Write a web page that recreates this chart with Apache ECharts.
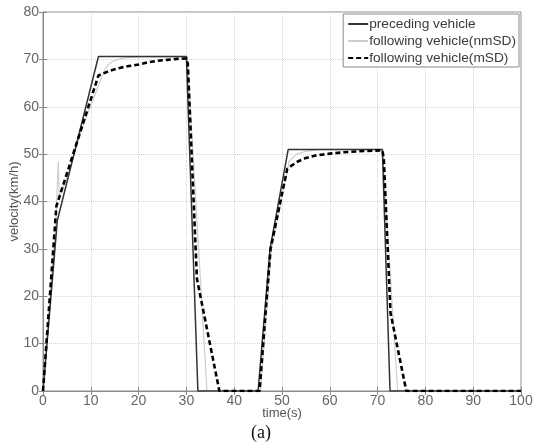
<!DOCTYPE html>
<html><head><meta charset="utf-8">
<script src="https://cdn.jsdelivr.net/npm/echarts@6/dist/echarts.min.js"></script>
<style>html,body{margin:0;padding:0;background:#fff}#c{width:533px;height:445px}</style>
</head><body><div id="c"></div>
<script>
var xTicks = [0,10,20,30,40,50,60,70,80,90,100];
var yTicks = [0,10,20,30,40,50,60,70,80];
var seriesNames = ['preceding vehicle','following vehicle(nmSD)','following vehicle(mSD)'];

var precT = [0, 3, 11.6, 30, 32.4, 45, 47.5, 51.3, 71, 72.6, 100];
var precV = [0, 36, 70.6, 70.6, 0, 0, 30, 51, 51, 0, 0];

var nmT = [0, 2.7, 3.2, 3.4, 5.3, 8, 12.2, 13, 14, 15, 17, 20, 30.2, 34.3, 45.5, 47.8, 51.5, 53, 55, 58, 71, 74.2, 100];
var nmV = [0, 36, 48.5, 41, 45.8, 55, 66, 68, 69.2, 69.8, 70.3, 70.5, 70.5, 0, 0, 30, 48.5, 50, 50.6, 51, 51, 0, 0];

var mT = [0, 2.8, 11.6, 12, 14, 16, 18, 20, 22, 24, 26, 28, 30, 30.3, 32.2, 36.9, 45.3, 47.6, 51.1, 53, 55, 57, 60, 63, 66, 71, 71.3, 72.7, 76, 100];
var mV = [0, 39, 66.6, 66.9, 67.6, 68.2, 68.6, 68.9, 69.4, 69.7, 69.9, 70.1, 70.2, 69, 23.7, 0, 0, 30, 46.9, 48.3, 49.2, 49.7, 50.1, 50.4, 50.6, 50.8, 49, 16.5, 0, 0];

function zip(t, v){ return t.map(function(x,i){ return [x, v[i]]; }); }

var chart = echarts.init(document.getElementById('c'));
var axisFont = {color:'#666', fontSize:14, fontFamily:'Liberation Sans, Arial, sans-serif'};
var nameFont = {color:'#555', fontSize:13, fontFamily:'Liberation Sans, Arial, sans-serif'};
chart.setOption({
  backgroundColor:'#fff',
  animation:false,
  grid:{left:43, right:12, top:12, bottom:54, show:true, borderColor:'#8a8a8a', borderWidth:1, outerBoundsMode:'none', containLabel:false},
  legend:{
    data:seriesNames, orient:'vertical', right:14, top:14,
    backgroundColor:'#fff', borderColor:'#8a8a8a', borderWidth:1,
    padding:[3,3,2,4], itemGap:3, itemWidth:20, itemHeight:13,
    itemStyle:{opacity:0},
    textStyle:{color:'#3a3a3a', fontSize:13.7, fontFamily:'Liberation Sans, Arial, sans-serif', padding:[0,0,0,-4]}
  },
  xAxis:[{
    type:'value', min:0, max:100, interval:10,
    name:'time(s)', nameLocation:'middle', nameGap:16, nameMoveOverlap:false,
    nameTextStyle:nameFont,
    axisLine:{show:true, lineStyle:{color:'#8a8a8a'}},
    axisTick:{show:true, inside:true, length:4, lineStyle:{color:'#8a8a8a'}},
    axisLabel:Object.assign({margin:3}, axisFont),
    splitLine:{show:true, lineStyle:{color:'#d4d4d4', type:'dotted'}}
  },{
    type:'value', position:'top', min:0, max:100, interval:10,
    axisLine:{show:true, lineStyle:{color:'#8a8a8a'}},
    axisTick:{show:true, inside:true, length:4, lineStyle:{color:'#8a8a8a'}},
    axisLabel:{show:false}, splitLine:{show:false}
  }],
  yAxis:[{
    type:'value', min:0, max:80, interval:10,
    name:'velocity(km/h)', nameLocation:'middle', nameGap:22, nameMoveOverlap:false,
    nameTextStyle:nameFont,
    axisLine:{show:true, lineStyle:{color:'#8a8a8a'}},
    axisTick:{show:true, inside:true, length:4, lineStyle:{color:'#8a8a8a'}},
    axisLabel:Object.assign({margin:4}, axisFont),
    splitLine:{show:true, lineStyle:{color:'#d4d4d4', type:'dotted'}}
  },{
    type:'value', position:'right', min:0, max:80, interval:10,
    axisLine:{show:true, lineStyle:{color:'#8a8a8a'}},
    axisTick:{show:true, inside:true, length:4, lineStyle:{color:'#8a8a8a'}},
    axisLabel:{show:false}, splitLine:{show:false}
  }],
  graphic:[{type:'text', left:251, top:424, style:{text:'(a)', fill:'#111', font:'18px "Liberation Serif", "Times New Roman", serif'}}],
  series:[
    {name:seriesNames[0], type:'line', data:zip(precT, precV), symbol:'none', itemStyle:{color:'#333'}, lineStyle:{color:'#333', width:1.5}, z:3},
    {name:seriesNames[1], type:'line', data:zip(nmT, nmV), symbol:'none', itemStyle:{color:'#cdcdcd'}, lineStyle:{color:'#cdcdcd', width:1.2}, z:2},
    {name:seriesNames[2], type:'line', data:zip(mT, mV), symbol:'none', itemStyle:{color:'#000'}, lineStyle:{color:'#000', width:2.6, type:[5,3]}, z:4}
  ]
});
</script></body></html>
